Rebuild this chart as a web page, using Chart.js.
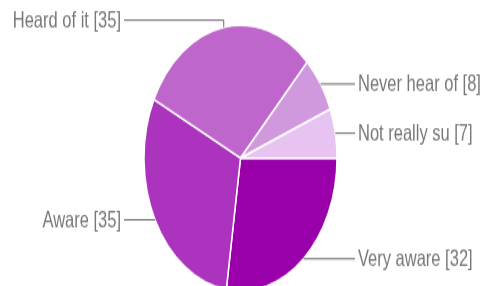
<!DOCTYPE html>
<html><head><meta charset="utf-8">
<script src="https://cdn.jsdelivr.net/npm/chart.js@4/dist/chart.umd.min.js"></script>
<style>
html,body{margin:0;padding:0;background:#fff;overflow:hidden;width:486px;height:286px;}
#wrap{position:absolute;left:0;top:0;width:486px;height:210px;transform:scaleY(1.378);transform-origin:0 0;}
</style></head><body>
<div id="wrap"><canvas id="c"></canvas></div>
<script>
const categories = ['Very aware', 'Aware', 'Heard of it', 'Never hear of', 'Not really su'];
const values = [32, 35, 35, 8, 7];
const colors = ['#9900aa', '#ab33bd', '#bf66cc', '#d199dd', '#e6c3f0'];

const sideLabels = {
  id: 'sideLabels',
  afterDatasetsDraw(chart) {
    const ctx = chart.ctx;
    const meta = chart.getDatasetMeta(0);
    ctx.save();
    ctx.font = '16.5px "Liberation Sans", Arial, sans-serif';
    ctx.strokeStyle = '#666';
    ctx.lineWidth = 1;
    ctx.fillStyle = '#777';
    ctx.textBaseline = 'middle';
    meta.data.forEach((arc, i) => {
      const p = arc.getProps(['x', 'y', 'startAngle', 'endAngle', 'outerRadius'], true);
      const mid = (p.startAngle + p.endAngle) / 2;
      const ax = p.x + Math.cos(mid) * p.outerRadius;
      const ay = p.y + Math.sin(mid) * p.outerRadius;
      const right = Math.cos(mid) >= 0;
      const colX = right ? p.x + p.outerRadius + 18 : p.x - p.outerRadius - 20;
      let ly = ay;
      ctx.beginPath();
      if (Math.abs(Math.cos(mid)) < 0.3) {
        ly = ay - 5;
        ctx.moveTo(colX, ly);
        ctx.lineTo(ax, ly);
        ctx.lineTo(ax, ay);
      } else {
        ctx.moveTo(ax, ay);
        ctx.lineTo(colX, ay);
      }
      ctx.stroke();
      const text = categories[i] + ' [' + values[i] + ']';
      ctx.textAlign = right ? 'left' : 'right';
      ctx.fillText(text, right ? colX + 3 : colX - 3, ly + 1);
    });
    ctx.restore();
  }
};

new Chart(document.getElementById('c'), {
  type: 'pie',
  data: {
    labels: categories,
    datasets: [{
      data: values,
      backgroundColor: colors,
      borderColor: '#ffffff',
      borderWidth: 1.5
    }]
  },
  options: {
    responsive: true,
    maintainAspectRatio: false,
    animation: false,
    rotation: 90,
    radius: 96.5,
    layout: { padding: { top: 19.4, right: 5, left: 0, bottom: 0 } },
    plugins: { legend: { display: false }, tooltip: { enabled: false } }
  },
  plugins: [sideLabels]
});
</script>
</body></html>
